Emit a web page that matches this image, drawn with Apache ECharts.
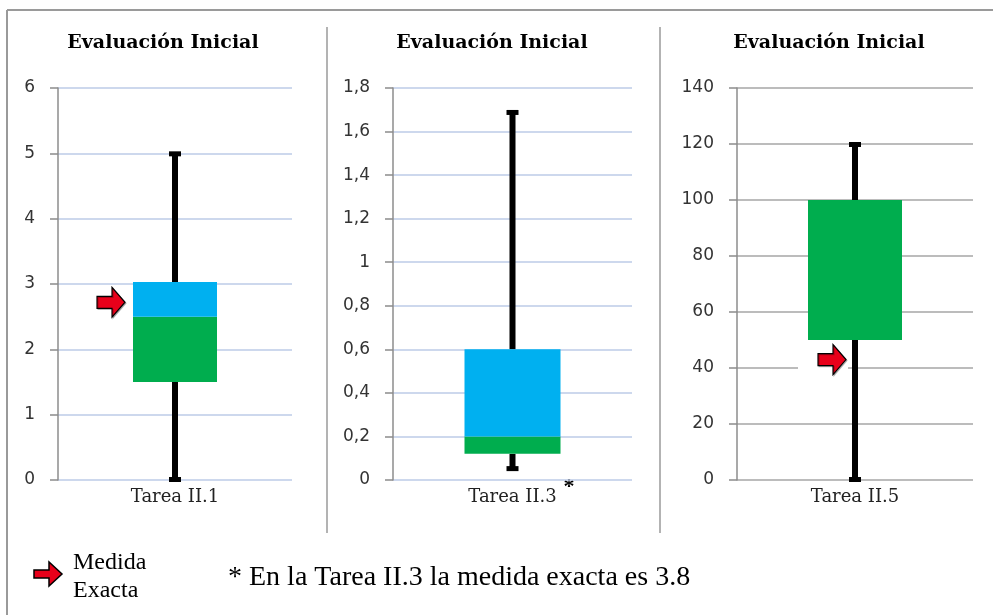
<!DOCTYPE html>
<html>
<head>
<meta charset="utf-8">
<style>
  html, body { margin: 0; padding: 0; background: #fff; }
  #chart { width: 993px; height: 615px; }
</style>
<script src="https://cdn.jsdelivr.net/npm/echarts/dist/echarts.min.js"></script>
</head>
<body>
<div id="chart"></div>
<script>
// datos
const categories = ['Tarea II.1', 'Tarea II.3', 'Tarea II.5']
const minValues = [0, 0.05, 0]
const q1Values = [1.5, 0.12, 50]
const medianValues = [2.5, 0.2, 100]
const q3Values = [3.03, 0.6, 100]
const maxValues = [5, 1.69, 120]
const exactValues = [2.72, null, 43]
const axisMax = [6, 1.8, 140]
const axisStep = [1, 0.2, 20]

// colocacion de cada panel
const panels = [
  { left: 58, width: 234, bar: 84, split: '#bccbe7', arrowOff: -64, gap: [36, 30], gapOff: -66 },
  { left: 393, width: 239, bar: 96, split: '#bccbe7', arrowOff: 0, gap: [0, 0], gapOff: 0 },
  { left: 737, width: 236, bar: 94, split: '#a6a6a6', arrowOff: -23, gap: [50, 30], gapOff: -32 }
]

const arrowPath = 'path://M0,9 L15,9 L15,0 L28,15 L15,30 L15,21 L0,21 Z'

let grids = []
let xAxes = []
let yAxes = []
let series = []

panels.forEach((p, i) => {
  grids.push({ left: p.left, width: p.width, top: 88, height: 392 })
  xAxes.push({
    type: 'category',
    gridIndex: i,
    data: [categories[i]],
    axisLine: { show: false },
    axisTick: { show: false },
    axisLabel: { margin: 8, fontFamily: 'DejaVu Serif', fontSize: 18, color: '#222' }
  })
  yAxes.push({
    type: 'value',
    gridIndex: i,
    min: 0,
    max: axisMax[i],
    interval: axisStep[i],
    axisLine: { show: true, lineStyle: { color: '#8c8c8c', width: 1.5 } },
    axisTick: { show: true, length: 8, lineStyle: { color: '#8c8c8c', width: 1.5 } },
    splitLine: { lineStyle: { color: p.split, width: 1.5 } },
    axisLabel: {
      margin: 23,
      fontFamily: 'DejaVu Sans',
      fontSize: 17,
      color: '#333',
      formatter: v => String(Math.round(v * 10) / 10).replace('.', ',')
    }
  })
  // bigotes: de max a q3 y de q1 a min
  series.push({
    type: 'custom',
    xAxisIndex: i,
    yAxisIndex: i,
    z: 2,
    data: [[0, minValues[i], q1Values[i], q3Values[i], maxValues[i]]],
    renderItem (params, api) {
      let pMin = api.coord([api.value(0), api.value(1)])
      let pQ1 = api.coord([api.value(0), api.value(2)])
      let pQ3 = api.coord([api.value(0), api.value(3)])
      let pMax = api.coord([api.value(0), api.value(4)])
      let cx = pMax[0]
      return {
        type: 'group',
        children: [
          { type: 'rect', shape: { x: cx - 3, y: pMax[1], width: 6, height: pQ3[1] - pMax[1] }, style: { fill: '#000' } },
          { type: 'rect', shape: { x: cx - 3, y: pQ1[1], width: 6, height: pMin[1] - pQ1[1] }, style: { fill: '#000' } },
          { type: 'rect', shape: { x: cx - 6, y: pMax[1] - 2, width: 12, height: 5 }, style: { fill: '#000' } },
          { type: 'rect', shape: { x: cx - 6, y: pMin[1] - 3, width: 12, height: 5 }, style: { fill: '#000' } }
        ]
      }
    }
  })
  // caja apilada
  series.push({
    type: 'bar', xAxisIndex: i, yAxisIndex: i, stack: 'box' + i, z: 3,
    barWidth: p.bar, silent: true,
    itemStyle: { color: 'rgba(0,0,0,0)' },
    data: [q1Values[i]]
  })
  series.push({
    type: 'bar', xAxisIndex: i, yAxisIndex: i, stack: 'box' + i, z: 3,
    barWidth: p.bar,
    itemStyle: { color: '#00ad4e' },
    data: [medianValues[i] - q1Values[i]]
  })
  series.push({
    type: 'bar', xAxisIndex: i, yAxisIndex: i, stack: 'box' + i, z: 3,
    barWidth: p.bar,
    itemStyle: { color: '#00b0f0' },
    data: [q3Values[i] - medianValues[i]]
  })
  if (exactValues[i] !== null) {
    series.push({
      type: 'scatter', xAxisIndex: i, yAxisIndex: i, z: 3,
      symbol: 'rect', symbolSize: p.gap, symbolOffset: [p.gapOff, 0],
      itemStyle: { color: '#fff', opacity: 1 },
      data: [[0, exactValues[i]]]
    })
    series.push({
      type: 'scatter', xAxisIndex: i, yAxisIndex: i, z: 4,
      symbol: arrowPath, symbolSize: [28, 30], symbolOffset: [p.arrowOff, 0],
      itemStyle: {
        color: '#e8001a', opacity: 1, borderColor: '#000', borderWidth: 1.2,
        shadowColor: 'rgba(0,0,0,0.25)', shadowOffsetX: 1, shadowOffsetY: 1
      },
      data: [[0, exactValues[i]]]
    })
  }
})

const titleStyle = { text: 'Evaluación Inicial', font: 'bold 19px "DejaVu Serif"', fill: '#000', align: 'center', verticalAlign: 'middle' }

let option = {
  animation: false,
  backgroundColor: '#fff',
  grid: grids,
  xAxis: xAxes,
  yAxis: yAxes,
  series: series,
  graphic: [
    // marco
    { type: 'line', shape: { x1: 7, y1: 10, x2: 993, y2: 10 }, style: { stroke: '#9a9a9a', lineWidth: 2 } },
    { type: 'line', shape: { x1: 7, y1: 10, x2: 7, y2: 615 }, style: { stroke: '#9a9a9a', lineWidth: 2 } },
    { type: 'line', shape: { x1: 327, y1: 27, x2: 327, y2: 533 }, style: { stroke: '#9a9a9a', lineWidth: 1.5 } },
    { type: 'line', shape: { x1: 660, y1: 27, x2: 660, y2: 533 }, style: { stroke: '#9a9a9a', lineWidth: 1.5 } },
    // titulos
    { type: 'text', x: 163, y: 43, style: titleStyle },
    { type: 'text', x: 492, y: 43, style: titleStyle },
    { type: 'text', x: 829, y: 43, style: titleStyle },
    { type: 'text', x: 569, y: 487, style: { text: '*', font: 'bold 22px "Liberation Serif"', fill: '#000', align: 'center', verticalAlign: 'middle' } },
    // leyenda
    {
      type: 'polygon', x: 34, y: 562,
      shape: { points: [[0, 8], [15, 8], [15, 0], [28, 12], [15, 24], [15, 16], [0, 16]] },
      style: { fill: '#e8001a', stroke: '#000', lineWidth: 1.5 }
    },
    { type: 'text', x: 73, y: 563, style: { text: 'Medida', font: '24px "Liberation Serif"', fill: '#000', verticalAlign: 'middle' } },
    { type: 'text', x: 73, y: 591, style: { text: 'Exacta', font: '24px "Liberation Serif"', fill: '#000', verticalAlign: 'middle' } },
    { type: 'text', x: 228, y: 578, style: { text: '* En la Tarea II.3 la medida exacta es 3.8', font: '28px "Liberation Serif"', fill: '#000', verticalAlign: 'middle' } }
  ]
}

let myChart = echarts.init(document.getElementById('chart'))
myChart.setOption(option)
</script>
</body>
</html>
